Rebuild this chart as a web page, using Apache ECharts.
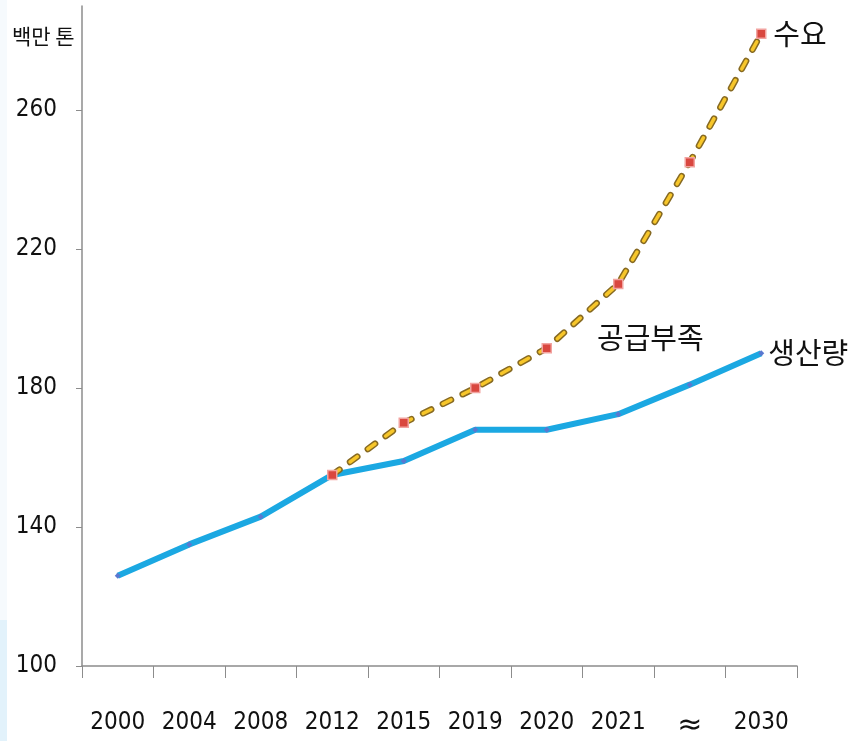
<!DOCTYPE html>
<html><head><meta charset="utf-8">
<script src="https://cdn.jsdelivr.net/npm/echarts@6/dist/echarts.min.js"></script>
<style>html,body{margin:0;padding:0;background:#fff}#c{width:854px;height:741px}</style>
</head><body><div id="c"></div>
<script>
const categories = ['2000','2004','2008','2012','2015','2019','2020','2021','≈','2030'];
const production = [126, 135, 143, 155, 159, 168, 168, 172.5, 181, 190];
const demand = [null, null, null, 155, 170, 180, 191.5, 210, 245, 282];
const yTicks = [100, 140, 180, 220, 260];
const unitLabel = '백만 톤';
const productionName = '생산량';
const demandName = '수요';
const gapLabel = '공급부족';

function hasFont(name) {
  const c = document.createElement('canvas').getContext('2d');
  const s = '2000 2019 abcdefghijklmnop';
  c.font = '40px monospace'; const w1 = c.measureText(s).width;
  c.font = '40px "' + name + '", monospace'; const w2 = c.measureText(s).width;
  c.font = '40px serif'; const w3 = c.measureText(s).width;
  c.font = '40px "' + name + '", serif'; const w4 = c.measureText(s).width;
  return w1 !== w2 || w3 !== w4;
}
let numFont, numSize;
if (hasFont('Liberation Sans Narrow')) { numFont = '"Liberation Sans Narrow"'; numSize = 27; }
else if (hasFont('DejaVu Sans Condensed')) { numFont = '"DejaVu Sans Condensed"'; numSize = 24; }
else { numFont = '"Liberation Sans"'; numSize = 23; }
const krFont = '"Noto Sans CJK KR","Noto Sans",sans-serif';

const chart = echarts.init(document.getElementById('c'));
chart.setOption({
  animation: false,
  backgroundColor: '#fff',
  grid: { left: 82, right: 57, top: 6, bottom: 74 },
  xAxis: {
    type: 'category', data: categories, boundaryGap: true,
    axisLine: { lineStyle: { color: '#8c8c8c', width: 1.5 } },
    axisTick: { show: true, length: 12, lineStyle: { color: '#8c8c8c' } },
    axisLabel: {
      margin: 45, fontSize: numSize, color: '#111', fontFamily: numFont, interval: 0,
      formatter: v => v === '≈' ? '{big|≈}' : v,
      rich: { big: { fontSize: 30, fontFamily: '"DejaVu Sans"', color: '#111' } }
    }
  },
  yAxis: {
    type: 'value', min: 100, max: 290,
    splitLine: { show: false },
    axisLine: { show: true, lineStyle: { color: '#8c8c8c', width: 1.5 } },
    axisTick: { show: true, length: 6, customValues: yTicks, lineStyle: { color: '#8c8c8c' } },
    axisLabel: { customValues: yTicks, margin: 25, fontSize: numSize, color: '#111', fontFamily: numFont }
  },
  graphic: [
    { type: 'rect', left: 0, top: 0, shape: { width: 7, height: 620 }, style: { fill: '#f6fafd' }, z: -10 },
    { type: 'rect', left: 0, top: 620, shape: { width: 7, height: 121 }, style: { fill: '#e2f2fb' }, z: -10 },
    { type: 'text', left: 12, top: 26, style: { text: unitLabel, fontSize: 21, fill: '#111', fontFamily: krFont } },
    { type: 'text', left: 597, top: 323, style: { text: gapLabel, fontSize: 29, fill: '#111', fontFamily: krFont } }
  ],
  series: [
    {
      name: productionName, type: 'line', data: production,
      symbol: 'diamond', symbolSize: 6,
      itemStyle: { color: '#5a78d0' },
      lineStyle: { color: '#1ba8e2', width: 6 },
      endLabel: { show: true, formatter: '{a}', fontSize: 29, color: '#111', fontFamily: krFont, distance: 7 },
      z: 2
    },
    {
      name: demandName, type: 'line', data: demand,
      symbol: 'none',
      lineStyle: { color: '#876a22', width: 6.5, type: [9, 13], cap: 'round' },
      z: 3
    },
    {
      name: demandName, type: 'line', data: demand,
      symbol: 'rect', symbolSize: 9,
      itemStyle: { color: '#d9473f', borderColor: '#f2a3a0', borderWidth: 1.5 },
      lineStyle: { color: '#f7c62a', width: 3.5, type: [9, 13], cap: 'round' },
      endLabel: { show: true, formatter: '{a}', fontSize: 29, color: '#111', fontFamily: krFont, distance: 12 },
      z: 4
    }
  ]
});
</script></body></html>
